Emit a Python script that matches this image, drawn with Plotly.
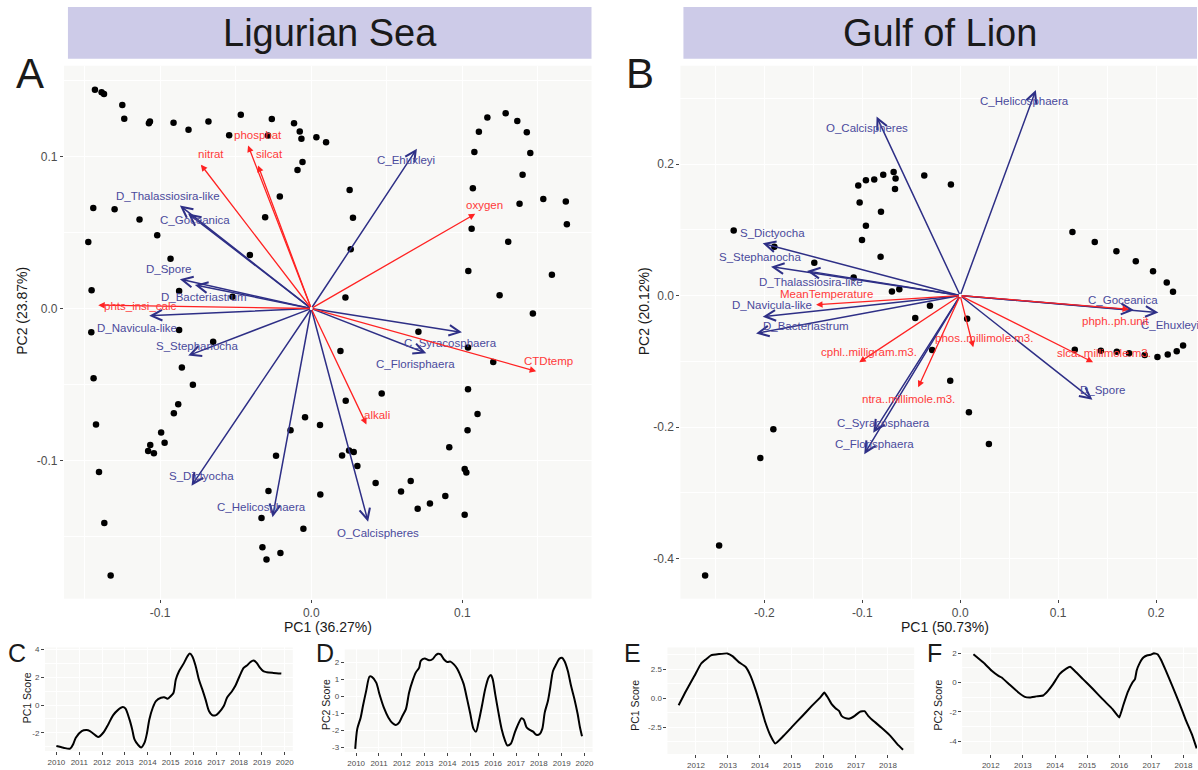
import plotly.graph_objects as go

W, H = 1198, 770
FONT = "Liberation Sans, Arial, Helvetica, sans-serif"

# ---------------- Data: Ligurian Sea PCA (panel A) ----------------
lig_pc1 = [-0.1431, -0.1387, -0.1371, -0.1250, -0.1237, -0.1074, -0.1067, -0.0911, -0.0812, -0.0680,
           -0.0543, -0.0466, -0.0286, -0.0261, -0.0114, -0.0076, -0.0065, 0.0034, 0.0098, -0.0058,
           -0.0091, -0.0208, -0.0305, -0.0406, -0.0521, -0.0874, -0.0931, -0.1019, -0.1136, -0.1301,
           -0.1442, -0.1475, -0.1453, 0.0254, 0.0276, 0.0261, 0.0226, 0.1165, 0.1286, 0.1363,
           0.1109, 0.1426, 0.1079, 0.1449, 0.1398, 0.1069, 0.1535, 0.1684, 0.1378, 0.1691,
           0.1061, 0.1303, 0.1039, 0.1592, 0.1246, 0.1466, -0.1455, -0.0874, -0.0649, -0.0856,
           -0.0783, -0.0880, -0.0909, -0.1440, -0.1424, -0.0993, -0.0970, -0.1065, -0.1079, -0.1041,
           -0.1404, -0.1369, -0.1327, -0.0041, -0.0137, -0.0233, -0.0283, -0.0329, -0.0052, -0.0323,
           -0.0296, -0.0204, 0.0060, 0.0709, 0.1037, 0.1204, 0.0193, 0.0228, 0.0466, 0.0058,
           0.1037, 0.1100, 0.1034, 0.0913, 0.0204, 0.0250, 0.0281, 0.0305, 0.1015, 0.1026,
           0.0426, 0.0658, 0.0594, 0.0887, 0.0785, 0.0704, 0.1015]
lig_pc2 = [0.1440, 0.1423, 0.1412, 0.1340, 0.1249, 0.1220, 0.1231, 0.1222, 0.1176, 0.1231,
           0.1141, 0.1275, 0.1139, 0.1248, 0.1220, 0.1165, 0.1117, 0.1128, 0.1095, 0.0964,
           0.0911, 0.0737, 0.0601, 0.0352, 0.0077, 0.0116, 0.0328, 0.0483, 0.0586, 0.0654,
           0.0662, 0.0437, 0.0121, 0.0780, 0.0597, 0.0390, 0.0072, 0.1257, 0.1285, 0.1235,
           0.1163, 0.1161, 0.1030, 0.1023, 0.0881, 0.0791, 0.0721, 0.0704, 0.0689, 0.0555,
           0.0525, 0.0439, 0.0247, 0.0223, 0.0088, -0.0033, -0.0157, -0.0142, -0.0218, -0.0389,
           -0.0502, -0.0630, -0.0689, -0.0459, -0.0763, -0.0817, -0.0883, -0.0898, -0.0938, -0.0953,
           -0.1077, -0.1412, -0.1757, -0.0715, -0.0802, -0.0970, -0.1202, -0.1379, -0.1449, -0.1571,
           -0.1652, -0.1609, -0.1224, -0.0153, -0.0256, -0.0352, -0.0279, -0.0607, -0.0559, -0.0767,
           -0.0531, -0.0695, -0.0802, -0.0913, -0.0968, -0.0935, -0.0944, -0.1036, -0.1056, -0.1079,
           -0.1148, -0.1136, -0.1204, -0.1235, -0.1283, -0.1318, -0.1357]

lig_species = ["D_Thalassiosira-like", "C_Goceanica", "D_Spore", "D_Bacteriastrum", "D_Navicula-like",
               "S_Stephanocha", "S_Dictyocha", "C_Helicosphaera", "O_Calcispheres", "C_Syracosphaera",
               "C_Florisphaera", "C_Ehuxleyi"]
lig_sp_pc1 = [-0.0869, -0.0815, -0.0869, -0.0770, -0.1072, -0.0814, -0.0792, -0.0256, 0.0376, 0.0997, 0.0761, 0.0699]
lig_sp_pc2 = [0.0678, 0.0625, 0.0193, 0.0155, -0.0048, -0.0310, -0.1167, -0.1374, -0.1403, -0.0157, -0.0295, 0.1052]

lig_env = ["nitrat", "phosphat", "silcat", "phts_insi_calc", "oxygen", "CTDtemp", "alkali"]
lig_env_pc1 = [-0.0730, -0.0418, -0.0352, -0.1409, 0.1085, 0.1488, 0.0365]
lig_env_pc2 = [0.0947, 0.1073, 0.0942, 0.0022, 0.0623, -0.0413, -0.0763]

# ---------------- Data: Gulf of Lion PCA (panel B) ----------------
gol_pc1 = [-0.2313, -0.1898, -0.1490, -0.1088, -0.0697, -0.0622, -0.1041, -0.0963, -0.0878, -0.0786,
           -0.0680, -0.0660, -0.0666, -0.1027, -0.0809, -0.0963, -0.1003, -0.0813, -0.0459, -0.0367,
           -0.0095, 0.1146, 0.1374, 0.1595, 0.1793, 0.1969, 0.2109, 0.2173, -0.0309, 0.0071,
           -0.0286, -0.0102, 0.0089, 0.0293, 0.1170, 0.1436, 0.1599, 0.1724, 0.1884, 0.2014,
           0.2119, 0.2211, 0.2276, -0.1908, -0.2041, -0.2462, -0.2605]
gol_pc2 = [0.0991, 0.0742, 0.0500, 0.0273, 0.0061, 0.0097, 0.1673, 0.1753, 0.1764, 0.1839,
           0.1879, 0.1779, 0.1621, 0.1415, 0.1273, 0.1061, 0.0844, 0.0591, -0.0342, 0.1824,
           0.1688, 0.0965, 0.0814, 0.0673, 0.0521, 0.0370, 0.0197, 0.0056, -0.0156, -0.0353,
           -0.0827, -0.1297, -0.1773, -0.2258, -0.0823, -0.0838, -0.0853, -0.0879, -0.0903, -0.0933,
           -0.0898, -0.0848, -0.0758, -0.2035, -0.2470, -0.3803, -0.4258]

gol_species = ["O_Calcispheres", "C_Helicosphaera", "S_Dictyocha", "S_Stephanocha", "D_Thalassiosira-like",
               "D_Navicula-like", "D_Bacteriastrum", "C_Syracosphaera", "C_Florisphaera", "D_Spore",
               "C_Goceanica", "C_Ehuxleyi"]
gol_sp_pc1 = [-0.0854, 0.0772, -0.2017, -0.1932, -0.1565, -0.2017, -0.2085, -0.0888, -0.0980, 0.1350, 0.1776, 0.2024]
gol_sp_pc2 = [0.2723, 0.3127, 0.0794, 0.0439, 0.0374, -0.0323, -0.0576, -0.2085, -0.2414, -0.1585, -0.0222, -0.0258]

gol_env = ["MeanTemperature", "cphl..milligram.m3.", "ntra..millimole.m3.", "phos..millimole.m3.",
           "slca..millimole.m3.", "phph..ph.unit"]
gol_env_pc1 = [-0.1472, -0.1031, -0.0429, 0.0133, 0.1357, 0.1724]
gol_env_pc2 = [-0.0141, -0.1015, -0.1394, -0.0788, -0.1015, -0.0207]

# ---------------- Data: PC score time series (panels C-F) ----------------
c_year = [2010.0, 2010.31, 2010.6, 2010.74, 2010.85, 2011.11, 2011.32, 2011.47, 2011.76, 2011.83,
          2012.05, 2012.27, 2012.48, 2012.69, 2012.91, 2013.02, 2013.2, 2013.32, 2013.42, 2013.57,
          2013.71, 2013.86, 2013.97, 2014.07, 2014.22, 2014.36, 2014.58, 2014.72, 2014.87, 2015.01,
          2015.13, 2015.23, 2015.37, 2015.59, 2015.74, 2015.84, 2015.95, 2016.1, 2016.24, 2016.39,
          2016.53, 2016.68, 2016.82, 2016.97, 2017.11, 2017.33, 2017.47, 2017.69, 2017.83, 2018.02,
          2018.2, 2018.34, 2018.49, 2018.63, 2018.77, 2018.92, 2019.06, 2019.21, 2019.5, 2019.85]
c_pc1 = [-2.95, -3.07, -3.14, -2.8, -2.35, -1.87, -1.8, -1.87, -2.23, -2.3,
         -1.99, -1.39, -0.74, -0.36, -0.14, -0.24, -1.03, -1.75, -2.47, -2.85,
         -3.05, -2.7, -1.99, -1.03, -0.19, 0.29, 0.53, 0.57, 0.46, 0.65,
         0.89, 1.84, 2.44, 3.04, 3.52, 3.71, 3.52, 2.8, 1.84, 1.13,
         0.41, -0.43, -0.72, -0.74, -0.55, -0.07, 0.53, 1.0, 1.37, 2.08,
         2.68, 2.85, 3.09, 3.21, 3.04, 2.68, 2.44, 2.37, 2.32, 2.28]

d_year = [2009.96, 2010.05, 2010.2, 2010.3, 2010.44, 2010.59, 2010.69, 2010.88, 2011.02, 2011.21,
          2011.41, 2011.6, 2011.74, 2011.89, 2012.03, 2012.18, 2012.32, 2012.47, 2012.61, 2012.76,
          2012.83, 2013.0, 2013.19, 2013.34, 2013.48, 2013.58, 2013.7, 2013.84, 2013.99, 2014.13,
          2014.28, 2014.42, 2014.57, 2014.71, 2014.86, 2015.0, 2015.14, 2015.25, 2015.36, 2015.51,
          2015.65, 2015.8, 2015.9, 2015.98, 2016.09, 2016.23, 2016.37, 2016.52, 2016.62, 2016.77,
          2016.95, 2017.1, 2017.24, 2017.34, 2017.46, 2017.6, 2017.75, 2017.89, 2018.04, 2018.15,
          2018.26, 2018.4, 2018.5, 2018.62, 2018.76, 2018.91, 2019.01, 2019.12, 2019.27, 2019.41,
          2019.56, 2019.7, 2019.8, 2019.89]
d_pc2 = [-3.1, -1.92, -1.24, -0.55, 0.33, 1.18, 1.16, 0.82, 0.14, -0.65,
         -1.24, -1.59, -1.69, -1.53, -1.14, -0.75, 0.24, 0.92, 1.41, 1.71,
         2.1, 2.24, 2.14, 2.2, 2.43, 2.53, 2.49, 2.2, 2.04, 2.06,
         1.9, 1.65, 1.22, 0.73, -0.16, -1.04, -1.92, -2.08, -1.53, -0.55,
         0.43, 1.12, 1.27, 1.02, 0.14, -0.94, -1.92, -2.61, -2.9, -2.8,
         -2.12, -1.63, -1.29, -1.37, -1.82, -1.98, -2.08, -2.27, -2.22, -1.92,
         -0.94, -0.25, 0.53, 1.51, 1.9, 2.24, 2.29, 2.1, 1.51, 0.63,
         -0.16, -1.04, -1.82, -2.35]

e_year = [2011.46, 2011.69, 2011.95, 2012.16, 2012.31, 2012.47, 2012.72, 2012.98, 2013.14, 2013.34,
          2013.55, 2013.71, 2013.86, 2014.02, 2014.17, 2014.33, 2014.48, 2014.74, 2015.0, 2015.31,
          2015.62, 2015.88, 2016.01, 2016.12, 2016.24, 2016.36, 2016.47, 2016.55, 2016.67, 2016.81,
          2016.96, 2017.12, 2017.27, 2017.38, 2017.58, 2017.79, 2018.05, 2018.29, 2018.47]
e_pc1 = [-0.6, 0.63, 1.91, 2.97, 3.34, 3.69, 3.8, 3.86, 3.63, 3.11,
         2.71, 1.91, 0.77, -0.66, -2.09, -3.23, -3.89, -3.23, -2.46, -1.57,
         -0.66, 0.06, 0.49, 0.06, -0.51, -0.86, -1.09, -1.51, -1.71, -1.74,
         -1.51, -1.17, -1.11, -1.51, -2.03, -2.51, -3.17, -3.94, -4.43]

f_year = [2011.46, 2011.77, 2012.03, 2012.24, 2012.34, 2012.6, 2012.86, 2013.06, 2013.22, 2013.42,
          2013.63, 2013.78, 2013.94, 2014.14, 2014.35, 2014.47, 2014.61, 2014.87, 2015.18, 2015.48,
          2015.79, 2016.0, 2016.12, 2016.26, 2016.41, 2016.49, 2016.54, 2016.62, 2016.75, 2016.88,
          2016.98, 2017.08, 2017.19, 2017.29, 2017.44, 2017.65, 2017.86, 2018.06, 2018.27, 2018.41]
f_pc2 = [1.93, 1.36, 0.8, 0.45, 0.34, -0.18, -0.68, -0.98, -1.02, -0.95,
         -0.89, -0.57, -0.11, 0.57, 0.95, 1.07, 0.8, 0.23, -0.45, -1.14,
         -1.82, -2.39, -1.59, -0.68, 0.0, 0.23, 0.8, 1.25, 1.7, 1.86,
         1.89, 2.0, 1.93, 1.59, 0.86, -0.23, -1.36, -2.5, -3.59, -4.5]

# tick labels
a_xticks = [-0.1, 0.0, 0.1]
a_yticks = [-0.1, 0.0, 0.1]
b_xticks = [-0.2, -0.1, 0.0, 0.1, 0.2]
b_yticks = [-0.4, -0.2, 0.0, 0.2]
cd_years = list(range(2010, 2021))
ef_years = list(range(2012, 2019))
c_yticks = [-2, 0, 2, 4]
d_yticks = [-3, -2, -1, 0, 1, 2]
e_yticks = [-2.5, 0.0, 2.5]
f_yticks = [-4, -2, 0, 2]

# ---------------- label offsets (pixels, layout only) ----------------
lig_sp_off = [(-12, 10), (7, -6), (-11, 10), (9, -12), (-12, -12), (9, 10), (10, 10), (-11, 10),
              (10, -11), (-11, -11), (-11, -11), (-11, -11)]
lig_env_off = [(10, 11), (10, 11), (11, 11), (42, -1), (9, 9), (12, 10), (11, 9)]
gol_sp_off = [(-10, -11), (-11, -11), (10, 10), (-11, 10), (4, -11), (9, 12), (50, 7), (10, 10),
              (10, 10), (10, 10), (-11, 10), (12, -12)]
gol_env_off = [(10, 11), (10, 10), (-10, -12), (11, 9), (11, 9), (-14, -12)]

BLUE = "#2e2f86"
BLUE_TXT = "#4a4a9c"
RED = "#ff2222"
RED_TXT = "#ff3a3a"
BG = "#f8f8f6"


def dx(l, r):
    return [l / W, r / W]


def dy(t, b):
    return [1 - b / H, 1 - t / H]


def fmt(v, nd):
    return f"{v:.{nd}f}"


fig = go.Figure()


def axis(domain, rng, ticks, labels, anchor, fs, minor=None):
    d = dict(domain=domain, range=rng, tickmode="array", tickvals=ticks, ticktext=labels,
             anchor=anchor, showgrid=True, gridcolor="white", gridwidth=1.1, zeroline=False,
             showline=False, ticks="outside", ticklen=3, tickwidth=1, tickcolor="#444444",
             tickangle=0, tickfont=dict(size=fs, color="#4d4d4d", family=FONT), fixedrange=True,
             layer="below traces")
    if minor is not None:
        d["minor"] = dict(tickmode="array", tickvals=minor, showgrid=True, gridcolor="white",
                          gridwidth=0.5, ticks="")
    return d


annotations = []
shapes = []

# ---------- panel A ----------
fig.add_trace(go.Scatter(x=lig_pc1, y=lig_pc2, mode="markers", xaxis="x", yaxis="y",
                         marker=dict(color="black", size=6.5), hoverinfo="skip"))
# ---------- panel B ----------
fig.add_trace(go.Scatter(x=gol_pc1, y=gol_pc2, mode="markers", xaxis="x2", yaxis="y2",
                         marker=dict(color="black", size=6.5), hoverinfo="skip"))


def add_arrows(names, xs, ys, offs, xr, yr, color, tcolor, width, head, size):
    for n, x, y, (ox, oy) in zip(names, xs, ys, offs):
        annotations.append(dict(x=x, y=y, ax=0, ay=0, xref=xr, yref=yr, axref=xr, ayref=yr,
                                text="", showarrow=True, arrowhead=head, arrowsize=size,
                                arrowwidth=width, arrowcolor=color, standoff=0, startstandoff=0))
    for n, x, y, (ox, oy) in zip(names, xs, ys, offs):
        annotations.append(dict(x=x, y=y, xref=xr, yref=yr, text=n, showarrow=False,
                                xshift=ox, yshift=oy, xanchor="center", yanchor="middle",
                                font=dict(size=11.5, color=tcolor, family=FONT)))


add_arrows(lig_species, lig_sp_pc1, lig_sp_pc2, lig_sp_off, "x", "y", BLUE, BLUE_TXT, 1.5, 5, 1.4)
add_arrows(lig_env, lig_env_pc1, lig_env_pc2, lig_env_off, "x", "y", RED, RED_TXT, 1.3, 2, 1.0)
add_arrows(gol_species, gol_sp_pc1, gol_sp_pc2, gol_sp_off, "x2", "y2", BLUE, BLUE_TXT, 1.5, 5, 1.4)
add_arrows(gol_env, gol_env_pc1, gol_env_pc2, gol_env_off, "x2", "y2", RED, RED_TXT, 1.3, 2, 1.0)

# ---------- time series ----------
fig.add_trace(go.Scatter(x=c_year, y=c_pc1, mode="lines", xaxis="x3", yaxis="y3",
                         line=dict(color="black", width=2, shape="spline", smoothing=0.8), hoverinfo="skip"))
fig.add_trace(go.Scatter(x=d_year, y=d_pc2, mode="lines", xaxis="x4", yaxis="y4",
                         line=dict(color="black", width=2, shape="spline", smoothing=0.8), hoverinfo="skip"))
fig.add_trace(go.Scatter(x=e_year, y=e_pc1, mode="lines", xaxis="x5", yaxis="y5",
                         line=dict(color="black", width=2, shape="spline", smoothing=0.4), hoverinfo="skip"))
fig.add_trace(go.Scatter(x=f_year, y=f_pc2, mode="lines", xaxis="x6", yaxis="y6",
                         line=dict(color="black", width=2, shape="spline", smoothing=0.3), hoverinfo="skip"))

SF = 8  # small-panel tick font
layout = dict(
    width=W, height=H, margin=dict(l=0, r=0, t=0, b=0), paper_bgcolor="white", plot_bgcolor=BG,
    showlegend=False, font=dict(family=FONT),
    xaxis=axis(dx(64, 592), [-0.1636, 0.1854], a_xticks, [fmt(v, 1) for v in a_xticks], "y", 12,
               [-0.15, -0.05, 0.05, 0.15]),
    yaxis=axis(dy(64, 599), [-0.191, 0.1598], a_yticks, [fmt(v, 1) for v in a_yticks], "x", 12,
               [-0.15, -0.05, 0.05, 0.15]),
    xaxis2=axis(dx(681, 1198), [-0.2857, 0.2418], b_xticks, [fmt(v, 1) for v in b_xticks], "y2", 12,
                [-0.25, -0.15, -0.05, 0.05, 0.15]),
    yaxis2=axis(dy(64, 599), [-0.461, 0.3495], b_yticks, [fmt(v, 1) for v in b_yticks], "x2", 12,
                [-0.3, -0.1, 0.1, 0.3]),
    xaxis3=axis(dx(45, 293), [2009.5, 2020.35], cd_years, [str(v) for v in cd_years], "y3", SF),
    yaxis3=axis(dy(648, 752), [-3.31, 4.15], c_yticks, [str(v) for v in c_yticks], "x3", SF, [-3, -1, 1, 3]),
    xaxis4=axis(dx(345, 593), [2009.5, 2020.35], cd_years, [str(v) for v in cd_years], "y4", SF),
    yaxis4=axis(dy(650, 753), [-3.29, 2.78], d_yticks, [str(v) for v in d_yticks], "x4", SF),
    xaxis5=axis(dx(668, 915), [2011.11, 2018.82], ef_years, [str(v) for v in ef_years], "y5", SF),
    yaxis5=axis(dy(648, 755), [-4.8, 4.37], e_yticks, [fmt(v, 1) for v in e_yticks], "x5", SF,
                [-3.75, -1.25, 1.25, 3.75]),
    xaxis6=axis(dx(963, 1198), [2011.11, 2018.42], ef_years, [str(v) for v in ef_years], "y6", SF),
    yaxis6=axis(dy(648, 755), [-4.89, 2.39], f_yticks, [str(v) for v in f_yticks], "x6", SF, [-3, -1, 1]),
)

# title boxes
for (l, r, txt) in [(68, 592, "Ligurian Sea"), (684, 1198, "Gulf of Lion")]:
    shapes.append(dict(type="rect", xref="paper", yref="paper", x0=l / W, x1=r / W,
                       y0=1 - 57 / H, y1=1 - 5 / H, fillcolor="#cdcbe8", line=dict(width=0), layer="below"))
    annotations.append(dict(x=(l + r) / 2 / W, y=1 - 31 / H, xref="paper", yref="paper", text=txt,
                            showarrow=False, xanchor="center", yanchor="middle",
                            font=dict(size=38, color="#1a1a1a", family=FONT)))


def ptext(x, y, txt, size, color="#1a1a1a", angle=0):
    annotations.append(dict(x=x / W, y=1 - y / H, xref="paper", yref="paper", text=txt, showarrow=False,
                            xanchor="center", yanchor="middle", textangle=angle,
                            font=dict(size=size, color=color, family=FONT)))


# panel letters
ptext(30, 72, "A", 42)
ptext(641, 72, "B", 42)
ptext(17, 654, "C", 25)
ptext(325, 654, "D", 25)
ptext(633, 654, "E", 25)
ptext(935, 654, "F", 25)

# axis titles
ptext(328, 627, "PC1 (36.27%)", 14)
ptext(22, 310, "PC2 (23.87%)", 14, angle=-90)
ptext(946, 627, "PC1 (50.73%)", 14)
ptext(644, 310, "PC2 (20.12%)", 14, angle=-90)
ptext(27, 698, "PC1 Score", 10.5, angle=-90)
ptext(327, 705, "PC2 Score", 10.5, angle=-90)
ptext(636, 706, "PC1 Score", 10.5, angle=-90)
ptext(939, 706, "PC2 Score", 10.5, angle=-90)

layout["annotations"] = annotations
layout["shapes"] = shapes
fig.update_layout(**layout)
fig.write_html("out.html")
